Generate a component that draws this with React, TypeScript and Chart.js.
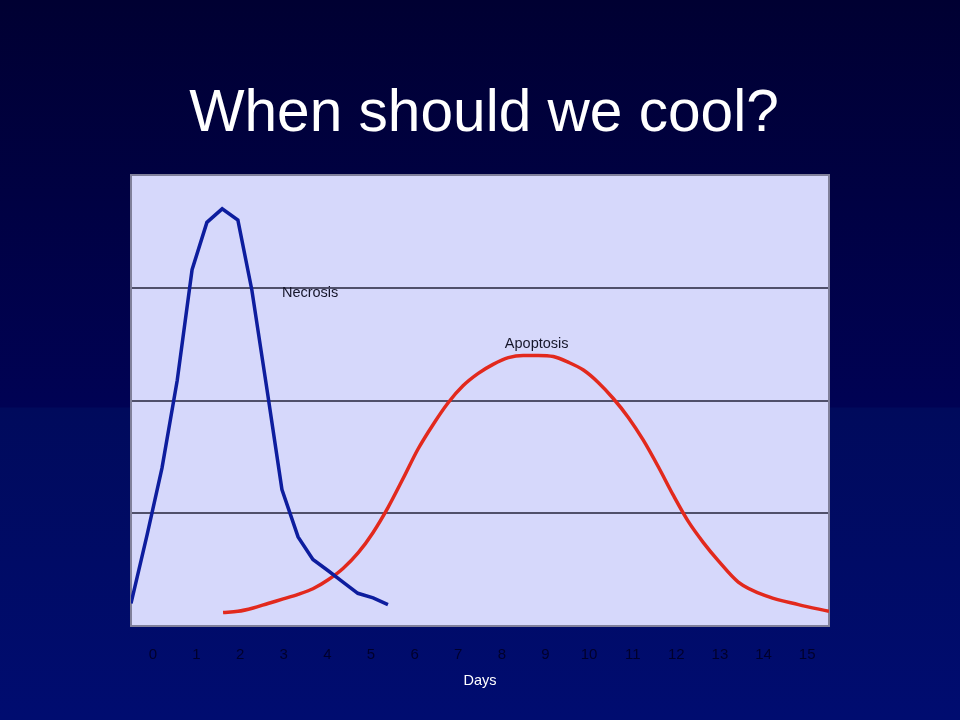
import React, { useEffect, useRef } from "react";
import { Chart, registerables } from "chart.js";

Chart.register(...registerables);

// ---- data ----
const titleText = "When should we cool?";
const xAxisTitle = "Days";
const xTickValues = [0, 1, 2, 3, 4, 5, 6, 7, 8, 9, 10, 11, 12, 13, 14, 15];

const necrosisLabel = "Necrosis";
const necrosisDays = [-0.5, -0.13, 0.21, 0.56, 0.9, 1.24, 1.59, 1.95, 2.27, 2.62, 2.96, 3.33, 3.67, 4.02, 4.36, 4.7, 5.05, 5.39];
const necrosisValues = [0.2, 0.81, 1.4, 2.18, 3.16, 3.58, 3.7, 3.6, 2.98, 2.09, 1.21, 0.79, 0.59, 0.49, 0.39, 0.29, 0.25, 0.19];

const apoptosisLabel = "Apoptosis";
const apoptosisDays = [1.61, 1.95, 2.3, 2.64, 2.99, 3.33, 3.67, 4.02, 4.36, 4.71, 5.05, 5.39, 5.74, 6.08, 6.43, 6.77, 7.11, 7.46, 7.8, 8.15, 8.49, 8.83, 9.18, 9.52, 9.87, 10.21, 10.55, 10.9, 11.24, 11.59, 11.93, 12.27, 12.62, 12.96, 13.42, 14.11, 14.8, 15.5];
const apoptosisValues = [0.12, 0.13, 0.16, 0.2, 0.24, 0.28, 0.33, 0.41, 0.51, 0.65, 0.83, 1.05, 1.31, 1.57, 1.79, 1.98, 2.13, 2.24, 2.32, 2.38, 2.4, 2.4, 2.39, 2.34, 2.27, 2.16, 2.02, 1.85, 1.65, 1.41, 1.16, 0.93, 0.74, 0.58, 0.39, 0.26, 0.19, 0.13];

// label anchor points (data coordinates)
const necrosisLabelAt = { x: 2.96, y: 2.92 };
const apoptosisLabelAt = { x: 8.07, y: 2.47 };

const FONT = "'Liberation Sans', Arial, sans-serif";

const decorPlugin = {
  id: "decor",
  beforeDraw(chart: any) {
    const { ctx, width, height, chartArea } = chart;
    ctx.save();
    const g = ctx.createLinearGradient(0, 0, 0, height);
    g.addColorStop(0, "rgb(0,0,50)");
    g.addColorStop(0.565, "rgb(0,2,84)");
    g.addColorStop(0.567, "rgb(0,10,92)");
    g.addColorStop(1, "rgb(0,12,112)");
    ctx.fillStyle = g;
    ctx.fillRect(0, 0, width, height);
    ctx.fillStyle = "#d6d8fb";
    ctx.fillRect(chartArea.left, chartArea.top, chartArea.right - chartArea.left, chartArea.bottom - chartArea.top);
    // title
    ctx.fillStyle = "#ffffff";
    ctx.font = `58.6px ${FONT}`;
    ctx.textAlign = "center";
    ctx.textBaseline = "alphabetic";
    ctx.fillText(titleText, 484, 131);
    ctx.restore();
  },
  beforeDatasetsDraw(chart: any) {
    const { ctx, chartArea, scales } = chart;
    ctx.save();
    ctx.strokeStyle = "#80809a";
    ctx.lineWidth = 2;
    ctx.strokeRect(chartArea.left, chartArea.top, chartArea.right - chartArea.left, chartArea.bottom - chartArea.top);
    ctx.fillStyle = "#16162a";
    ctx.font = `14.5px ${FONT}`;
    ctx.textAlign = "left";
    ctx.textBaseline = "alphabetic";
    ctx.fillText(necrosisLabel, scales.x.getPixelForValue(necrosisLabelAt.x), scales.y.getPixelForValue(necrosisLabelAt.y));
    ctx.fillText(apoptosisLabel, scales.x.getPixelForValue(apoptosisLabelAt.x), scales.y.getPixelForValue(apoptosisLabelAt.y));
    ctx.restore();
  },
};

export default function App() {
  const ref = useRef<HTMLCanvasElement | null>(null);
  useEffect(() => {
    if (!ref.current) return;
    const chart = new Chart(ref.current, {
      type: "line",
      data: {
        datasets: [
          {
            label: necrosisLabel,
            data: necrosisDays.map((d, i) => ({ x: d, y: necrosisValues[i] })),
            borderColor: "#0d1d9e",
            borderWidth: 3.5,
            pointRadius: 0,
            tension: 0,
            fill: false,
          },
          {
            label: apoptosisLabel,
            data: apoptosisDays.map((d, i) => ({ x: d, y: apoptosisValues[i] })),
            borderColor: "#e2291d",
            borderWidth: 3.5,
            pointRadius: 0,
            cubicInterpolationMode: "monotone",
            fill: false,
          },
        ],
      },
      options: {
        animation: false,
        responsive: false,
        maintainAspectRatio: false,
        layout: { padding: { left: 131, right: 131, top: 175, bottom: 0 } },
        plugins: { legend: { display: false }, tooltip: { enabled: false }, title: { display: false } },
        scales: {
          x: {
            type: "linear",
            min: -0.5,
            max: 15.5,
            afterBuildTicks: (scale: any) => {
              scale.ticks = xTickValues.map((v) => ({ value: v }));
            },
            afterFit: (scale: any) => {
              scale.height = 94;
            },
            grid: { display: false },
            border: { display: false },
            ticks: {
              color: "#00002c",
              font: { family: FONT, size: 15 },
              padding: 12,
              maxRotation: 0,
              autoSkip: false,
            },
            title: {
              display: true,
              text: xAxisTitle,
              color: "#ffffff",
              font: { family: FONT, size: 14.5 },
              padding: { top: 0, bottom: 30 },
            },
          },
          y: {
            min: 0,
            max: 4,
            ticks: { display: false, stepSize: 1 },
            afterFit: (scale: any) => {
              scale.width = 0;
            },
            grid: { color: "#50506a", lineWidth: 2, drawTicks: false },
            border: { display: false },
          },
        },
      },
      plugins: [decorPlugin],
    });
    return () => chart.destroy();
  }, []);
  return (
    <div style={{ position: "absolute", left: 0, top: 0, width: 960, height: 720 }}>
      <canvas ref={ref} width={960} height={720} />
    </div>
  );
}
